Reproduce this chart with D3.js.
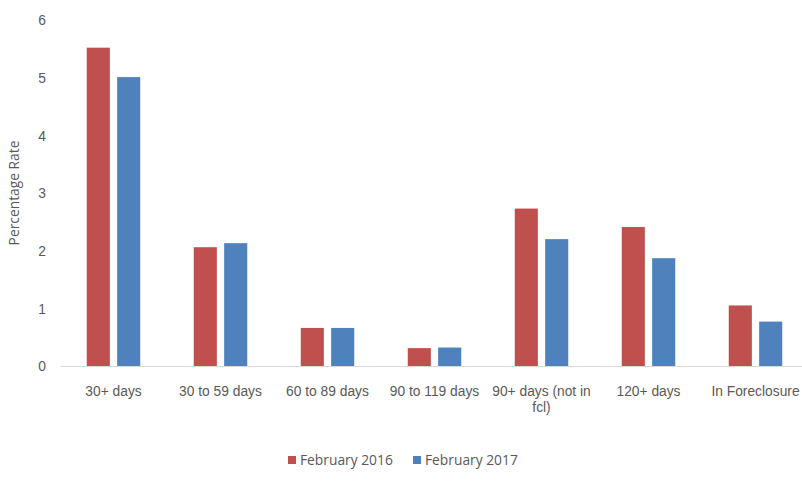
<!DOCTYPE html>
<html>
<head>
<meta charset="utf-8">
<script src="https://cdn.jsdelivr.net/npm/d3@7"></script>
<style>
  html, body { margin: 0; padding: 0; background: #fff; }
  svg { display: block; font-family: "Open Sans", "Noto Sans", sans-serif; }
</style>
</head>
<body>
<svg id="chart" width="802" height="495"></svg>
<script>
const categories = ["30+ days", "30 to 59 days", "60 to 89 days", "90 to 119 days", "90+ days (not in fcl)", "120+ days", "In Foreclosure"];
const seriesNames = ["February 2016", "February 2017"];
const feb2016 = [5.52, 2.06, 0.66, 0.31, 2.73, 2.41, 1.05];
const feb2017 = [5.01, 2.13, 0.66, 0.32, 2.20, 1.87, 0.77];
const yTicks = [0, 1, 2, 3, 4, 5, 6];
const colors = ["#c0504d", "#4f81bd"];
const yTitle = "Percentage Rate";

const seriesValues = [feb2016, feb2017];
const svg = d3.select("#chart");
const fontSize = "13.8px";

const plot = { left: 60, right: 809, top: 20, bottom: 366 };

const y = d3.scaleLinear().domain([0, 6]).range([plot.bottom, plot.top]);
const x0 = d3.scaleBand().domain(categories).range([plot.left, plot.right]).paddingInner(0.5).paddingOuter(0.25);
const x1 = d3.scaleBand().domain(seriesNames).range([0, x0.bandwidth()]).paddingInner(0.24).paddingOuter(0);

// Y axis labels (no line)
const yAxis = d3.axisLeft(y).tickValues(yTicks).tickSize(0).tickPadding(0).tickFormat(d3.format("d"));
const gy = svg.append("g").attr("transform", `translate(46,0)`).call(yAxis);
gy.select(".domain").remove();
gy.selectAll("text").attr("fill", "#595959").style("font-size", fontSize).attr("dy", "0.35em");

// Bars
const groups = svg.append("g").selectAll("g")
  .data(categories)
  .join("g")
  .attr("transform", d => `translate(${x0(d)},0)`);

groups.selectAll("rect")
  .data((d, i) => seriesNames.map((s, j) => ({ s, v: seriesValues[j][i], j })))
  .join("rect")
  .attr("x", d => x1(d.s))
  .attr("width", x1.bandwidth())
  .attr("y", d => y(d.v))
  .attr("height", d => y(0) - y(d.v))
  .attr("fill", d => colors[d.j]);

// X axis
const xAxis = d3.axisBottom(x0).tickSize(0).tickPadding(0);
const gx = svg.append("g").attr("transform", `translate(0,${plot.bottom})`).call(xAxis);
gx.select(".domain").attr("stroke", "#d9d9d9").attr("stroke-width", 1.2);
gx.selectAll("text").attr("fill", "#595959").style("font-size", fontSize).attr("y", 20);

function wrap(text, width) {
  text.each(function() {
    const t = d3.select(this);
    const words = t.text().split(/\s+/);
    const yy = t.attr("y");
    t.text(null);
    let line = [];
    let lineNo = 0;
    let tspan = t.append("tspan").attr("x", 0).attr("y", yy).attr("dy", "0.71em");
    for (const w of words) {
      line.push(w);
      tspan.text(line.join(" "));
      if (tspan.node().getComputedTextLength() > width && line.length > 1) {
        line.pop();
        tspan.text(line.join(" "));
        line = [w];
        lineNo++;
        tspan = t.append("tspan").attr("x", 0).attr("y", yy).attr("dy", (0.71 + lineNo * 1.2) + "em").text(w);
      }
    }
  });
}
gx.selectAll(".tick text").call(wrap, 104);

// Y title
svg.append("text")
  .attr("transform", "translate(19,193) rotate(-90)")
  .attr("text-anchor", "middle")
  .attr("fill", "#595959")
  .style("font-size", fontSize)
  .text(yTitle);

// Legend
const legend = svg.append("g").attr("transform", "translate(288,460)");
const legendX = [0, 125];
seriesNames.forEach((s, i) => {
  const g = legend.append("g").attr("transform", `translate(${legendX[i]},0)`);
  g.append("rect").attr("x", 0).attr("y", -4).attr("width", 8).attr("height", 8).attr("fill", colors[i]);
  g.append("text").attr("x", 12).attr("y", 0).attr("dy", "0.35em")
    .attr("fill", "#595959").style("font-size", fontSize).text(s);
});
</script>
</body>
</html>
